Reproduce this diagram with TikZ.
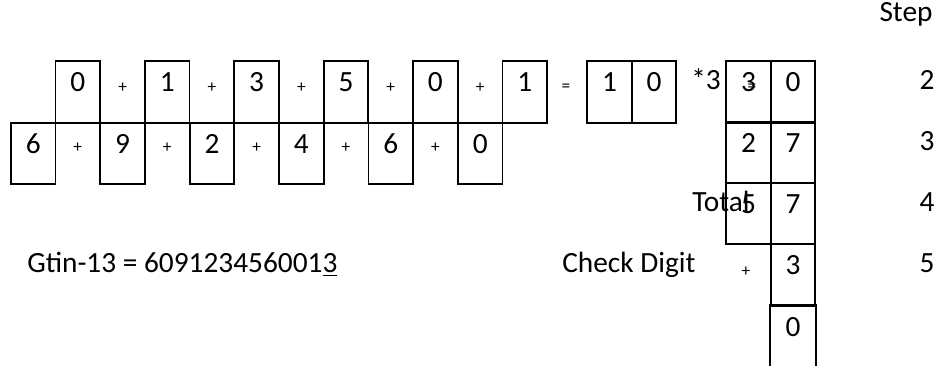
\documentclass[tikz,border=0pt]{standalone}
\usepackage{fontspec}
\setmainfont{Carlito}
\tikzset{
  cell/.style={draw, line width=1.4pt, minimum width=33.5pt, minimum height=46pt,
    inner sep=0pt, text height=14pt, text depth=14pt},
  op/.style={font=\fontsize{13}{15}\selectfont},
}
\begin{document}
\begin{tikzpicture}[x=0.75pt,y=-0.75pt, every node/.style={font=\fontsize{22}{26}\selectfont, inner sep=0pt}]
        \useasboundingbox (0,0) rectangle (936,366);
        % upper row of digits
        \node[cell] (t1) at (77.8,92){0};
        \node[cell] (t2) at (167.2,92){1};
        \node[cell] (t3) at (256.6,92){3};
        \node[cell] (t4) at (346,92){5};
        \node[cell] (t5) at (435.4,92){0};
        \node[cell] (t6) at (524.8,92){1};
        \node[op] (pt1) at (122.6,88){+};
        \node[op] (pt2) at (212,88){+};
        \node[op] (pt3) at (301.4,88){+};
        \node[op] (pt4) at (390.8,88){+};
        \node[op] (pt5) at (480.2,88){+};
        % lower row of digits
        \node[cell] (b1) at (33.2,153.5){6};
        \node[cell] (b2) at (122.6,153.5){9};
        \node[cell] (b3) at (212,153.5){2};
        \node[cell] (b4) at (301.4,153.5){4};
        \node[cell] (b5) at (390.8,153.5){6};
        \node[cell] (b6) at (480.2,153.5){0};
        \node[op] (pb1) at (77.8,148){+};
        \node[op] (pb2) at (167.2,148){+};
        \node[op] (pb3) at (256.6,148){+};
        \node[op] (pb4) at (346,148){+};
        \node[op] (pb5) at (435.4,148){+};
        % sum
        \node[op] (eq1) at (566,88){=};
        \node[cell] (sum1) at (609.5,92){1};
        \node[cell] (sum2) at (654,92){0};
        \node[anchor=base] (times) at (706,90){*3};
        % right column
        \node[cell] (r1a) at (748.5,92){3};
        \node[cell] (r1b) at (793,92){0};
        \node[op] (eq2) at (752,88){=};
        \node[cell] (r2a) at (748.5,152.5){2};
        \node[cell] (r2b) at (793,152.5){7};
        \node[cell] (r3a) at (748.5,213.5){5};
        \node[cell] (r3b) at (793,213.5){7};
        \node[anchor=base west] (total) at (692,212){Total};
        \node[cell] (r4b) at (793,275){3};
        \node[op] (pr) at (746,272){+};
        \node[cell, draw=none] (r5b) at (793,336.5){0};
        \draw[line width=1.4pt] (r5b.south west) -- (r5b.north west) -- (r5b.north east) -- (r5b.south east);
        % step numbers
        \node[anchor=base] (st0) at (906,22){Step};
        \node[anchor=base] (st2) at (927,90){2};
        \node[anchor=base] (st3) at (927,151){3};
        \node[anchor=base] (st4) at (927,212){4};
        \node[anchor=base] (st5) at (927,273){5};
        % result
        \node[anchor=base west] (gtin) at (27,273){Gtin-13 = 609123456001\underline{3}};
        \node[anchor=base west] (check) at (562,273){Check Digit};
    \end{tikzpicture}
\end{document}
